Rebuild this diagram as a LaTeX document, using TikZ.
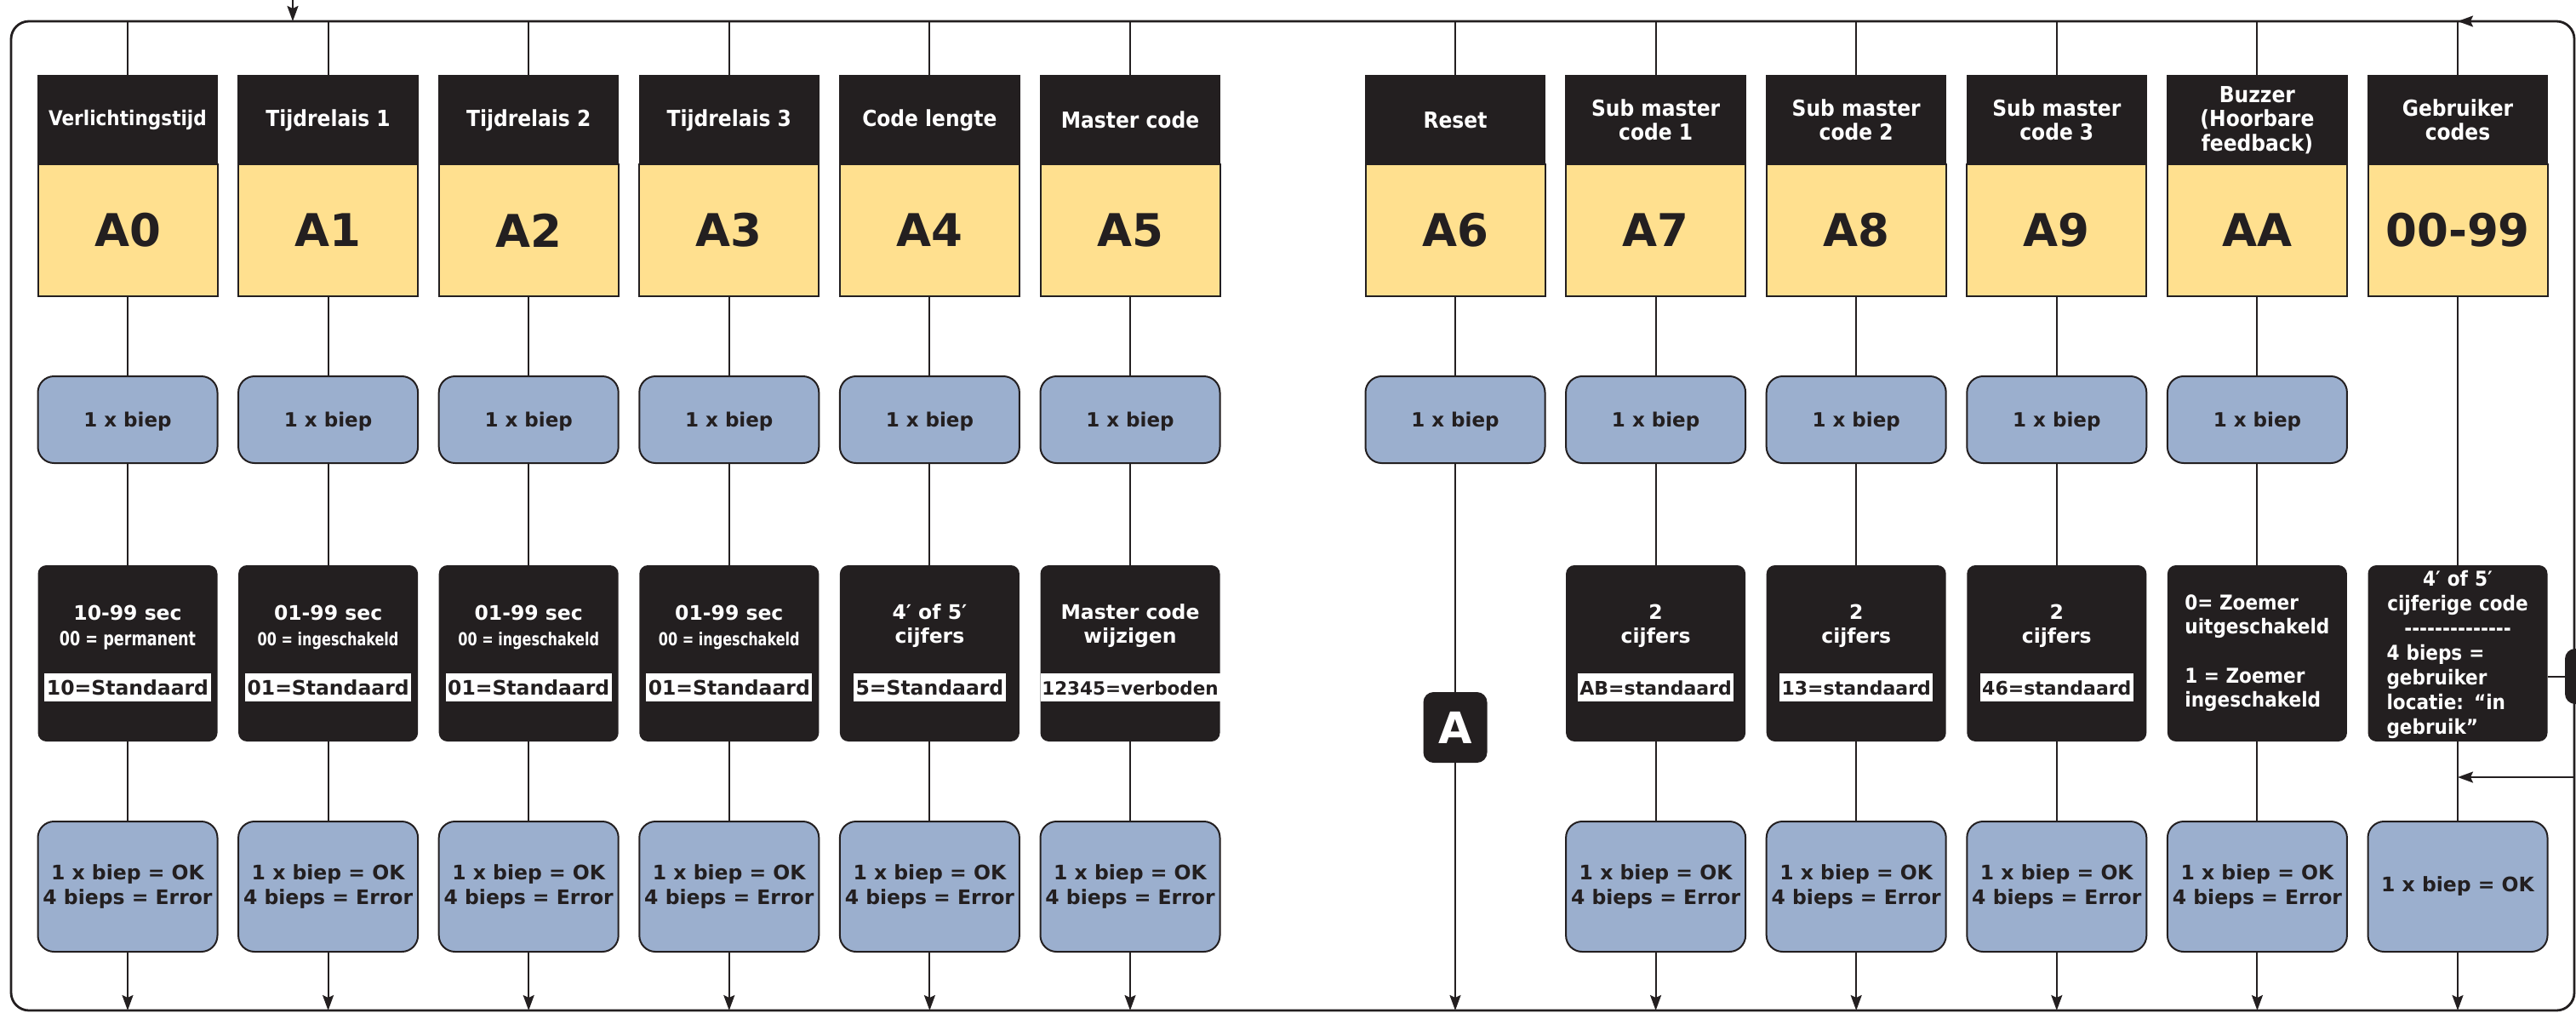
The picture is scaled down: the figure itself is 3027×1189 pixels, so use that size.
\documentclass[tikz,border=0pt]{standalone}
\usepackage{fontspec}
\setmainfont{DejaVu Sans}
\newfontfamily\narrowfont{DejaVu Sans Condensed Bold}
\usetikzlibrary{arrows.meta,calc}
\definecolor{ink}{HTML}{231F20}
\definecolor{gold}{HTML}{FFE08F}
\definecolor{steel}{HTML}{9BAFCE}
\tikzset{>={Stealth[length=18pt,width=13pt,inset=3pt]}}
\tikzset{
  wire/.style={draw=ink, line width=2pt},
  frame/.style={draw=ink, line width=2.8pt},
  head/.style={fill=ink, draw=ink, line width=1.5pt, text=white, align=center, minimum width=211pt, minimum height=104pt, inner sep=0pt, font=\narrowfont\fontsize{26}{28.5}\selectfont},
  code/.style={fill=gold, draw=ink, line width=2pt, text=ink, minimum width=211pt, minimum height=155pt, inner sep=0pt, font=\bfseries\fontsize{53}{60}\selectfont},
  blok/.style={fill=steel, draw=ink, line width=2pt, rounded corners=19pt, text=ink, minimum width=211pt, inner sep=0pt},
  biep/.style={blok, minimum height=102pt, text depth=0pt, font=\bfseries\fontsize{23}{28}\selectfont},
  uitslag/.style={blok, minimum height=153pt, align=center, font=\bfseries\fontsize{23.5}{29}\selectfont},
  info/.style={fill=ink, rounded corners=10pt, minimum width=211pt, minimum height=207pt, inner sep=0pt},
  infotxt/.style={text=white, align=center, inner sep=0pt, font=\bfseries\fontsize{23.5}{28}\selectfont},
  infosub/.style={text=white, inner sep=0pt, anchor=base, font=\narrowfont},
  std/.style={fill=white, text=ink, inner xsep=2.5pt, inner ysep=8pt, text height=17pt, text depth=0pt, font=\bfseries\fontsize{23.5}{28}\selectfont},
  tag/.style={fill=ink, rounded corners=12pt, minimum width=75pt, minimum height=83pt, text=white, inner sep=0pt, font=\bfseries\fontsize{51}{56}\selectfont}
}
\begin{document}
\begin{tikzpicture}[x=1pt,y=-1pt]
    \useasboundingbox (0,0) rectangle (3027,1189);
    \draw[frame, rounded corners=21pt] (13,25) rectangle (3025,1187);
    \foreach \nm/\hd/\cd [count=\i from 0] in {a0/{\fontsize{24}{28}\selectfont Verlichtingstijd}/A0, a1/Tijdrelais 1/A1, a2/Tijdrelais 2/A2, a3/Tijdrelais 3/A3, a4/Code lengte/A4, a5/Master code/A5, a6/Reset/A6, a7/{Sub master\\code 1}/A7, a8/{Sub master\\code 2}/A8, a9/{Sub master\\code 3}/A9, aa/{Buzzer\\(Hoorbare\\feedback)}/AA, ab/{Gebruiker\\codes}/00-99}
    {
        \pgfmathsetmacro\xx{\i<6 ? 150+235.6*\i : 1710+235.6*(\i-6)}
        \coordinate (t\nm) at (\xx,25);
        \coordinate (e\nm) at (\xx,1187);
        \node[head] (h\nm) at (\xx,141) {\hd};
        \node[code] (c\nm) at (\xx,270.5) {\cd};
        \draw[wire] (t\nm) -- (h\nm);
    }
    \foreach \nm in {a0,a1,a2,a3,a4,a5,a6,a7,a8,a9,aa}
    {
        \node[biep] (b\nm) at (c\nm |- 0,493) {1 x biep};
        \draw[wire] (c\nm) -- (b\nm);
    }
    \foreach \nm in {a0,a1,a2,a3,a4,a5,a7,a8,a9,aa}
    {
        \node[info] (i\nm) at (c\nm |- 0,767.5) {};
        \draw[wire] (b\nm) -- (i\nm);
        \node[uitslag] (r\nm) at (c\nm |- 0,1041.5) {1 x biep = OK\\4 bieps = Error};
        \draw[wire] (i\nm) -- (r\nm);
        \draw[wire,->] (r\nm) -- (e\nm);
    }
    \node[info] (iab) at (cab |- 0,767.5) {};
    \draw[wire] (cab) -- (iab);
    \node[uitslag] (rab) at (cab |- 0,1041.5) {1 x biep = OK};
    \draw[wire] (iab) -- (rab);
    \draw[wire,->] (rab) -- (eab);
    \node[tag] (ka6) at (ca6 |- 0,854.5) {A};
    \draw[wire] (ba6) -- (ka6);
    \draw[wire,->] (ka6) -- (ea6);
    \foreach \nm/\kop/\pt/\klein/\std in {a0/10-99 sec/23/00 = permanent/10=Standaard, a1/01-99 sec/21/00 = ingeschakeld/01=Standaard, a2/01-99 sec/21/00 = ingeschakeld/01=Standaard, a3/01-99 sec/21/00 = ingeschakeld/01=Standaard}
    {
        \node[infotxt, anchor=base] (p\nm) at (c\nm |- 0,728.5) {\kop};
        \node[infosub] (q\nm) at (c\nm |- 0,758) {\fontsize{\pt}{\pt}\selectfont\scalebox{0.85}[1]{\klein}};
        \node[std] (s\nm) at (c\nm |- 0,807.5) {\std};
    }
    \foreach \nm/\kop/\std in {a4/{4′ of 5′\\cijfers}/5=Standaard, a7/{2\\cijfers}/{\fontsize{22}{26}\selectfont AB=standaard}, a8/{2\\cijfers}/{\fontsize{22}{26}\selectfont 13=standaard}, a9/{2\\cijfers}/{\fontsize{22}{26}\selectfont 46=standaard}}
    {
        \node[infotxt] (p\nm) at (c\nm |- 0,735.5) {\kop};
        \node[std] (s\nm) at (c\nm |- 0,807.5) {\std};
    }
    \node[infotxt] (pa5) at (ca5 |- 0,735.5) {Master code\\wijzigen};
    \node[std, minimum width=211pt, inner xsep=0pt, font=\bfseries\fontsize{21.5}{26}\selectfont] (sa5) at (ca5 |- 0,807.5) {12345=verboden};
    \node[infotxt, align=left, font=\narrowfont\fontsize{24}{28}\selectfont] (paa) at (iaa) {0= Zoemer\\uitgeschakeld\\[30pt]1 = Zoemer\\ingeschakeld};
    \node[infotxt, align=left, text width=167pt, font=\narrowfont\fontsize{24}{29}\selectfont] (pab) at (cab |- 0,769) {\makebox[\linewidth]{4′ of 5′}\\\makebox[\linewidth]{cijferige code}\\\makebox[\linewidth]{-{}-{}-{}-{}-{}-{}-{}-{}-{}-{}-{}-{}-{}-}\\4 bieps =\\gebruiker\\locatie: “in\\gebruik”};
    \node[fill=ink, rounded corners=12pt, minimum width=92pt, minimum height=65pt, inner sep=0pt] (ext) at (3060,794.5) {};
    \draw[wire] (iab.east |- ext) -- (ext);
    \coordinate (terug) at (3025,913);
    \draw[wire,->] (terug) -- (terug -| iab);
    \coordinate (in) at (344,0);
    \draw[wire,->] (in) -- (in |- ta0);
    \coordinate (lus) at (2965,25);
    \draw[wire,->] (lus) -- (tab);
\end{tikzpicture}
\end{document}
